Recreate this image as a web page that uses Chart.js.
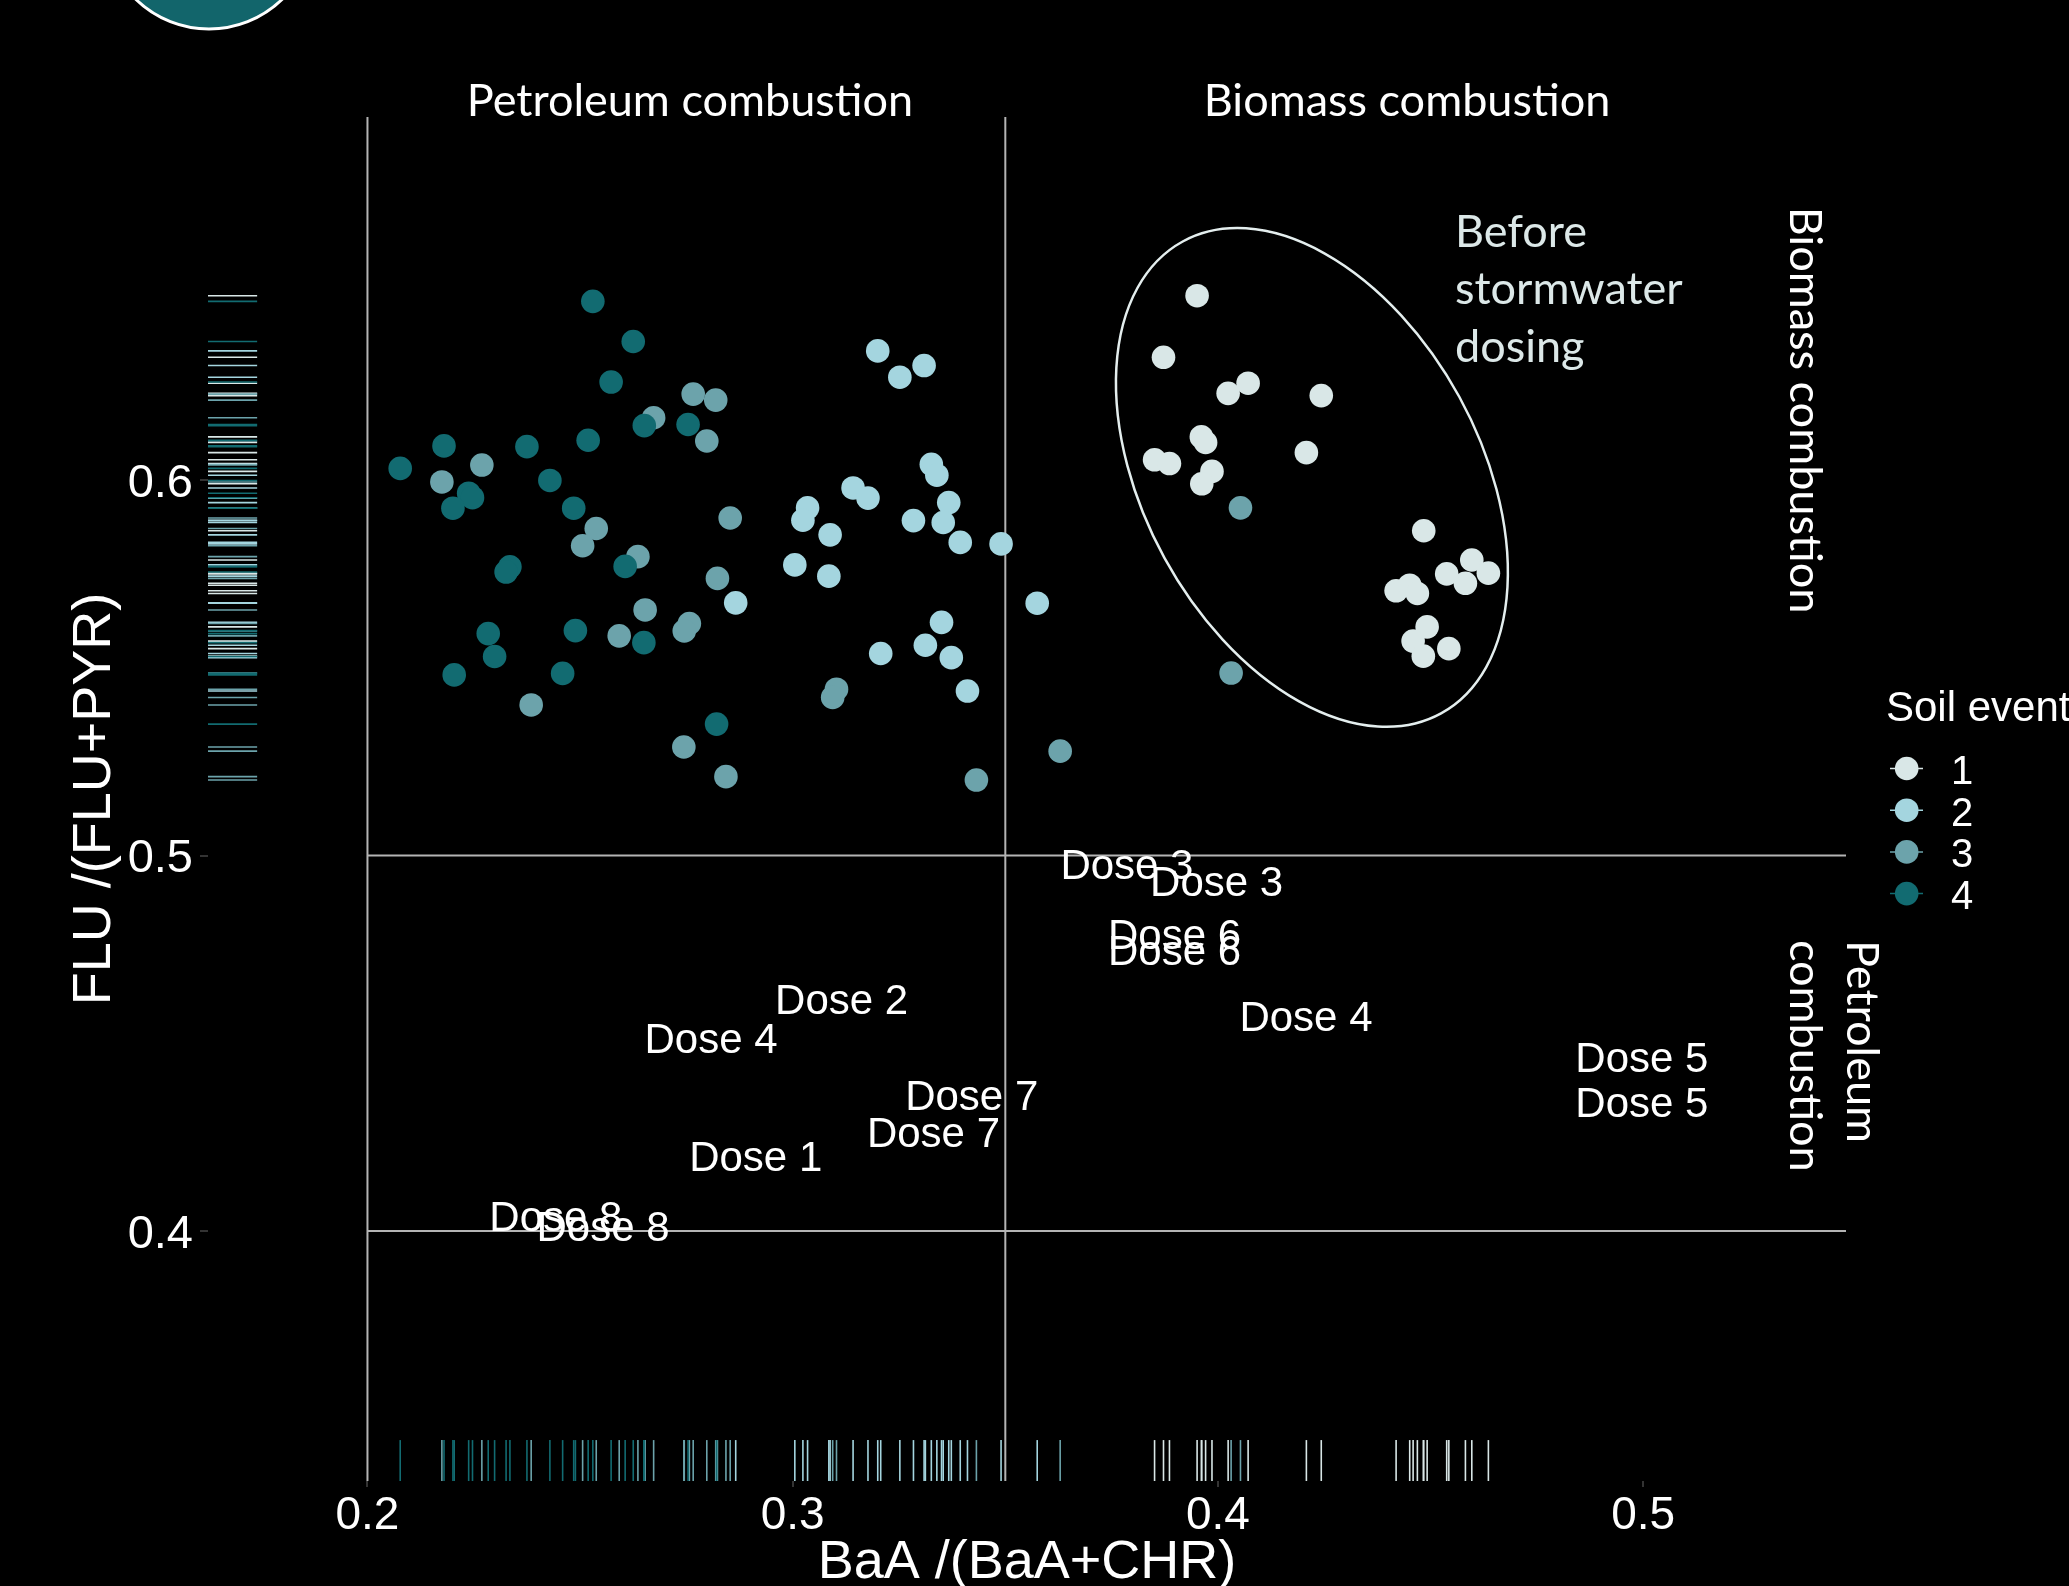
<!DOCTYPE html>
<html>
<head>
<meta charset="utf-8">
<script src="https://cdn.jsdelivr.net/npm/chart.js@4.4.1/dist/chart.umd.min.js"></script>
<style>
  html, body { margin: 0; padding: 0; background: #000; }
  #wrap { position: relative; width: 2069px; height: 1586px; overflow: hidden; background: #000; }
</style>
</head>
<body>
<div id="wrap"><canvas id="chart"></canvas></div>
<script>
// BaA/(BaA+CHR) (x) and FLU/(FLU+PYR) (y) for each soil event
const event1X = [0.3951, 0.3872, 0.4024, 0.4071, 0.4243, 0.3961, 0.3971, 0.3851, 0.3886, 0.3986, 0.3962, 0.4208, 0.4484, 0.4597, 0.4636, 0.4538, 0.4582, 0.4419, 0.4451, 0.4469, 0.4492, 0.4459, 0.4483, 0.4543];
const event1Y = [0.6491, 0.6327, 0.6231, 0.6258, 0.6225, 0.6115, 0.6100, 0.6054, 0.6044, 0.6023, 0.5990, 0.6073, 0.5865, 0.5787, 0.5752, 0.5750, 0.5725, 0.5705, 0.5720, 0.5698, 0.5609, 0.5571, 0.5531, 0.5551];

const event2X = [0.3035, 0.3024, 0.3088, 0.3142, 0.3177, 0.3005, 0.3085, 0.2866, 0.3200, 0.3252, 0.3309, 0.3326, 0.3339, 0.3367, 0.3284, 0.3354, 0.3394, 0.3490, 0.3575, 0.3350, 0.3207, 0.3312, 0.3373, 0.3411];
const event2Y = [0.5926, 0.5893, 0.5854, 0.5979, 0.5952, 0.5774, 0.5744, 0.5673, 0.6344, 0.6274, 0.6305, 0.6042, 0.6013, 0.5940, 0.5892, 0.5887, 0.5834, 0.5830, 0.5672, 0.5621, 0.5538, 0.5560, 0.5527, 0.5438];

const event3X = [0.2766, 0.2819, 0.2673, 0.2798, 0.2269, 0.2175, 0.2538, 0.2506, 0.2853, 0.2636, 0.2823, 0.2653, 0.2757, 0.2745, 0.2592, 0.2385, 0.2744, 0.2843, 0.3103, 0.3094, 0.3629, 0.3432, 0.4053, 0.4031];
const event3Y = [0.6229, 0.6213, 0.6166, 0.6104, 0.6040, 0.5995, 0.5871, 0.5825, 0.5899, 0.5796, 0.5738, 0.5654, 0.5618, 0.5598, 0.5585, 0.5401, 0.5289, 0.5210, 0.5443, 0.5421, 0.5278, 0.5201, 0.5926, 0.5486];

const event4X = [0.2530, 0.2625, 0.2573, 0.2651, 0.2754, 0.2180, 0.2375, 0.2519, 0.2077, 0.2238, 0.2247, 0.2201, 0.2429, 0.2485, 0.2335, 0.2326, 0.2606, 0.2650, 0.2489, 0.2284, 0.2299, 0.2204, 0.2459, 0.2821];
const event4Y = [0.6476, 0.6369, 0.6261, 0.6145, 0.6148, 0.6091, 0.6089, 0.6106, 0.6031, 0.5965, 0.5953, 0.5925, 0.5999, 0.5925, 0.5769, 0.5755, 0.5770, 0.5567, 0.5599, 0.5591, 0.5530, 0.5481, 0.5485, 0.5350];

// stormwater dose labels
const doseLabels = ['Dose 3', 'Dose 3', 'Dose 6', 'Dose 6', 'Dose 2', 'Dose 4', 'Dose 4', 'Dose 7', 'Dose 7', 'Dose 5', 'Dose 5', 'Dose 1', 'Dose 8', 'Dose 8'];
const doseX = [0.3786, 0.3997, 0.3898, 0.3898, 0.3115, 0.2808, 0.4207, 0.3421, 0.3331, 0.4997, 0.4997, 0.2913, 0.2443, 0.2554];
const doseY = [0.4977, 0.4931, 0.4791, 0.4749, 0.4619, 0.4513, 0.4573, 0.4362, 0.4264, 0.4464, 0.4344, 0.4200, 0.4039, 0.4014];

// threshold lines (0.2 / 0.35 on x, 0.4 / 0.5 on y)
const guideX = [0.2, 0.35];
const guideY = [0.4, 0.5];

const xTicks = [0.2, 0.3, 0.4, 0.5];
const yTicks = [0.4, 0.5, 0.6];
const eventNames = ['1', '2', '3', '4'];

const X_MIN = 0.1625, X_MAX = 0.5477;
const Y_MIN = 0.3334, Y_MAX = 0.6967;

const eventColors = ['#d9e7e7', '#a4d5df', '#6ca3ab', '#126b71'];
const guideColor = '#b4b4b4';
const ARIAL = "'Liberation Sans', Arial, sans-serif";
const CALIBRI = "Lato, 'Open Sans', sans-serif";

const events = [
    { x: event1X, y: event1Y },
    { x: event2X, y: event2Y },
    { x: event3X, y: event3Y },
    { x: event4X, y: event4Y }
];

const toPoints = (xs, ys) => xs.map((v, i) => ({ x: v, y: ys[i] }));

const datasets = [];
events.forEach((ev, i) => {
    datasets.push({
        type: 'scatter',
        label: eventNames[i],
        data: toPoints(ev.x, ev.y),
        backgroundColor: eventColors[i],
        borderWidth: 0,
        pointRadius: 11.8,
        order: 4 - i
    });
});

guideX.forEach(g => {
    datasets.push({
        type: 'line',
        data: [{ x: g, y: Y_MIN }, { x: g, y: Y_MAX }],
        borderColor: guideColor,
        borderWidth: 2,
        pointRadius: 0,
        order: 20
    });
});
guideY.forEach(g => {
    datasets.push({
        type: 'line',
        data: [{ x: 0.2, y: g }, { x: X_MAX, y: g }],
        borderColor: guideColor,
        borderWidth: 2,
        pointRadius: 0,
        order: 20
    });
});

datasets.push({
    type: 'scatter',
    label: 'doses',
    data: toPoints(doseX, doseY),
    pointRadius: 0,
    order: 0
});

// rug marks along both axes
const rugPlugin = {
    id: 'rug',
    beforeDatasetsDraw(chart) {
        const { ctx, chartArea, scales: { x, y } } = chart;
        const lenX = 0.03 * (chartArea.bottom - chartArea.top);
        const lenY = 0.03 * (chartArea.right - chartArea.left);
        ctx.save();
        ctx.lineWidth = 1.6;
        events.forEach((ev, i) => {
            ctx.strokeStyle = eventColors[i];
            ev.x.forEach(v => {
                const px = x.getPixelForValue(v);
                ctx.beginPath();
                ctx.moveTo(px, chartArea.bottom);
                ctx.lineTo(px, chartArea.bottom - lenX);
                ctx.stroke();
            });
            ev.y.forEach(v => {
                const py = y.getPixelForValue(v);
                ctx.beginPath();
                ctx.moveTo(chartArea.left, py);
                ctx.lineTo(chartArea.left + lenY, py);
                ctx.stroke();
            });
        });
        ctx.restore();
    }
};

// dose text labels centred on their data positions
const doseLabelPlugin = {
    id: 'doseLabels',
    afterDatasetsDraw(chart) {
        const idx = chart.data.datasets.findIndex(d => d.label === 'doses');
        const meta = chart.getDatasetMeta(idx);
        const { ctx } = chart;
        const size = 42;
        ctx.save();
        ctx.fillStyle = '#ffffff';
        ctx.font = size + 'px ' + ARIAL;
        ctx.textAlign = 'center';
        ctx.textBaseline = 'alphabetic';
        meta.data.forEach((pt, i) => ctx.fillText(doseLabels[i], pt.x, pt.y + size * 0.358));
        ctx.restore();
    }
};

// slide overlays: ellipse, annotations, legend, corner badge
const overlayPlugin = {
    id: 'overlay',
    afterDraw(chart) {
        const { ctx, scales: { x, y } } = chart;
        ctx.save();

        // corner badge
        ctx.beginPath();
        ctx.arc(209, -76, 105, 0, Math.PI * 2);
        ctx.fillStyle = '#12656b';
        ctx.fill();
        ctx.lineWidth = 3;
        ctx.strokeStyle = '#ffffff';
        ctx.stroke();

        // "before dosing" ellipse
        ctx.beginPath();
        ctx.ellipse(x.getPixelForValue(0.4221), y.getPixelForValue(0.6007), 269, 168, 61.3 * Math.PI / 180, 0, Math.PI * 2);
        ctx.lineWidth = 2.5;
        ctx.strokeStyle = '#e4eeee';
        ctx.stroke();

        ctx.fillStyle = '#ffffff';
        ctx.font = '45px ' + CALIBRI;
        ctx.textBaseline = 'middle';
        ctx.textAlign = 'center';
        ctx.fillText('Petroleum combustion', 690, 101);
        ctx.fillText('Biomass combustion', 1407, 101);

        ctx.fillStyle = '#dce8e8';
        ctx.textAlign = 'left';
        ctx.fillText('Before', 1455, 232);
        ctx.fillText('stormwater', 1455, 289);
        ctx.fillText('dosing', 1455, 347);

        ctx.fillStyle = '#ffffff';
        ctx.save();
        ctx.translate(1805, 410);
        ctx.rotate(Math.PI / 2);
        ctx.textAlign = 'center';
        ctx.fillText('Biomass combustion', 0, 0);
        ctx.restore();

        ctx.save();
        ctx.translate(1862, 940);
        ctx.rotate(Math.PI / 2);
        ctx.textAlign = 'left';
        ctx.fillText('Petroleum', 0, 0);
        ctx.restore();
        ctx.save();
        ctx.translate(1805, 940);
        ctx.rotate(Math.PI / 2);
        ctx.textAlign = 'left';
        ctx.fillText('combustion', 0, 0);
        ctx.restore();

        // legend
        ctx.font = '42px ' + ARIAL;
        ctx.textAlign = 'left';
        ctx.textBaseline = 'alphabetic';
        ctx.fillText('Soil event', 1886, 721);
        ctx.font = '40px ' + ARIAL;
        eventNames.forEach((name, i) => {
            const cy = 768.5 + i * 41.7;
            ctx.strokeStyle = eventColors[i];
            ctx.lineWidth = 1.5;
            ctx.beginPath();
            ctx.moveTo(1890, cy);
            ctx.lineTo(1923, cy);
            ctx.stroke();
            ctx.beginPath();
            ctx.arc(1906.7, cy, 11.8, 0, Math.PI * 2);
            ctx.fillStyle = eventColors[i];
            ctx.fill();
            ctx.fillStyle = '#ffffff';
            ctx.fillText(name, 1951, cy + 1 + 40 * 0.358);
        });
        ctx.restore();
    }
};

new Chart(document.getElementById('chart'), {
    data: { datasets },
    options: {
        responsive: true,
        maintainAspectRatio: false,
        animation: false,
        events: [],
        layout: { padding: { left: 0, top: 117, right: 223, bottom: 0 } },
        plugins: { legend: { display: false }, tooltip: { enabled: false } },
        scales: {
            x: {
                type: 'linear',
                position: 'bottom',
                min: X_MIN,
                max: X_MAX,
                afterFit: s => { s.height = 105; },
                afterBuildTicks: s => { s.ticks = xTicks.map(v => ({ value: v })); },
                border: { display: false },
                grid: { drawOnChartArea: false, drawTicks: true, tickLength: 6, color: '#333333', lineWidth: 2 },
                ticks: {
                    color: '#ffffff',
                    font: { family: ARIAL, size: 46, lineHeight: 1 },
                    padding: 6,
                    maxRotation: 0,
                    callback: v => v.toFixed(1)
                },
                title: {
                    display: true,
                    text: 'BaA /(BaA+CHR)',
                    color: '#ffffff',
                    font: { family: ARIAL, size: 54, lineHeight: 0.8 },
                    padding: { top: 0, bottom: 1 }
                }
            },
            y: {
                type: 'linear',
                min: Y_MIN,
                max: Y_MAX,
                afterFit: s => { s.width = 208; },
                afterBuildTicks: s => { s.ticks = yTicks.map(v => ({ value: v })); },
                border: { display: false },
                grid: { drawOnChartArea: false, drawTicks: true, tickLength: 8, color: '#333333', lineWidth: 2 },
                ticks: {
                    color: '#ffffff',
                    font: { family: ARIAL, size: 47, lineHeight: 1 },
                    padding: 7,
                    labelOffset: 4,
                    callback: v => v.toFixed(1)
                },
                title: {
                    display: true,
                    text: 'FLU /(FLU+PYR)',
                    color: '#ffffff',
                    font: { family: ARIAL, size: 54, lineHeight: 1.2 },
                    padding: { top: 63, bottom: 0 }
                }
            }
        }
    },
    plugins: [rugPlugin, doseLabelPlugin, overlayPlugin]
});
</script>
</body>
</html>
